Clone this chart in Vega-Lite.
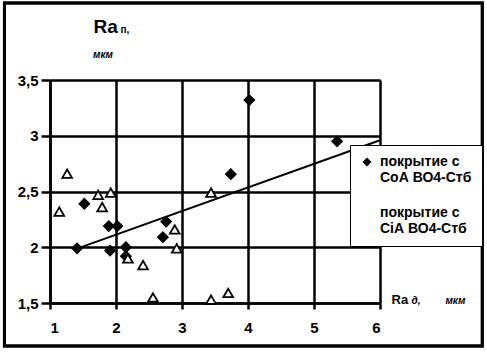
{
  "$schema": "https://vega.github.io/schema/vega-lite/v6.json",
  "width": 330,
  "height": 223,
  "autosize": "none",
  "padding": {"left": 50, "top": 80, "right": 107, "bottom": 49},
  "background": "white",
  "config": {
    "view": {"stroke": null},
    "font": "Liberation Sans",
    "axis": {
      "gridColor": "black", "gridWidth": 2.5, "gridOpacity": 1,
      "domainColor": "black", "domainWidth": 2.5,
      "tickColor": "black", "tickWidth": 2.5,
      "labelColor": "black", "labelFont": "Liberation Sans", "labelFontSize": 15, "labelFontWeight": "bold",
      "titleColor": "black", "titleFont": "Liberation Sans", "titleFontWeight": "bold"
    },
    "title": {"color": "black", "font": "Liberation Sans"}
  },
  "title": {"text": "мкм", "anchor": "start", "frame": "group", "dx": 43, "dy": 76, "fontSize": 10, "fontStyle": "italic", "fontWeight": "bold", "offset": 18},
  "datasets": {
    "points": [
      {"x": 1.52, "y": 2.39, "series": "покрытие с СоА ВО4-Стб"},
      {"x": 1.41, "y": 1.99, "series": "покрытие с СоА ВО4-Стб"},
      {"x": 1.89, "y": 2.19, "series": "покрытие с СоА ВО4-Стб"},
      {"x": 2.02, "y": 2.19, "series": "покрытие с СоА ВО4-Стб"},
      {"x": 1.91, "y": 1.97, "series": "покрытие с СоА ВО4-Стб"},
      {"x": 2.15, "y": 2.0, "series": "покрытие с СоА ВО4-Стб"},
      {"x": 2.15, "y": 1.92, "series": "покрытие с СоА ВО4-Стб"},
      {"x": 2.76, "y": 2.23, "series": "покрытие с СоА ВО4-Стб"},
      {"x": 2.71, "y": 2.09, "series": "покрытие с СоА ВО4-Стб"},
      {"x": 3.74, "y": 2.655, "series": "покрытие с СоА ВО4-Стб"},
      {"x": 4.02, "y": 3.32, "series": "покрытие с СоА ВО4-Стб"},
      {"x": 5.35, "y": 2.95, "series": "покрытие с СоА ВО4-Стб"},
      {"x": 1.26, "y": 2.66, "series": "покрытие с СіА ВО4-Стб"},
      {"x": 1.14, "y": 2.32, "series": "покрытие с СіА ВО4-Стб"},
      {"x": 1.73, "y": 2.47, "series": "покрытие с СіА ВО4-Стб"},
      {"x": 1.92, "y": 2.49, "series": "покрытие с СіА ВО4-Стб"},
      {"x": 1.79, "y": 2.36, "series": "покрытие с СіА ВО4-Стб"},
      {"x": 2.18, "y": 1.9, "series": "покрытие с СіА ВО4-Стб"},
      {"x": 2.41, "y": 1.84, "series": "покрытие с СіА ВО4-Стб"},
      {"x": 2.89, "y": 2.16, "series": "покрытие с СіА ВО4-Стб"},
      {"x": 2.92, "y": 1.99, "series": "покрытие с СіА ВО4-Стб"},
      {"x": 2.56, "y": 1.55, "series": "покрытие с СіА ВО4-Стб"},
      {"x": 3.44, "y": 1.53, "series": "покрытие с СіА ВО4-Стб"},
      {"x": 3.7, "y": 1.59, "series": "покрытие с СіА ВО4-Стб"},
      {"x": 3.44, "y": 2.49, "series": "покрытие с СіА ВО4-Стб"}
    ],
    "trend": [
      {"x": 1.42, "y": 1.99},
      {"x": 6.0, "y": 2.96}
    ]
  },
  "layer": [
    {
      "data": {"name": "trend"},
      "mark": {"type": "rect", "fill": null, "stroke": "black", "strokeWidth": 3, "clip": false},
      "encoding": {
        "x": {"datum": 0.31, "type": "quantitative", "scale": {"domain": [1, 6], "nice": false, "zero": false}, "axis": null},
        "x2": {"datum": 7.55},
        "y": {"datum": 4.19, "type": "quantitative", "scale": {"domain": [1.5, 3.5], "nice": false, "zero": false}, "axis": null},
        "y2": {"datum": 1.115}
      }
    },
    {
      "data": {"name": "trend"},
      "mark": {"type": "line", "color": "black", "strokeWidth": 2},
      "encoding": {
        "x": {"field": "x", "type": "quantitative", "scale": {"domain": [1, 6], "nice": false, "zero": false},
          "axis": {"orient": "top", "grid": false, "domain": false, "ticks": false, "labels": false,
            "title": "д,\u00a0\u00a0\u00a0\u00a0\u00a0\u00a0\u00a0\u00a0\u00a0мкм", "titleX": 361, "titleY": 223, "titleAngle": 0, "titleAlign": "left", "titleBaseline": "alphabetic", "titleFontSize": 10, "titleFontStyle": "italic"}},
        "y": {"field": "y", "type": "quantitative", "scale": {"domain": [1.5, 3.5], "nice": false, "zero": false},
          "axis": {"orient": "right", "grid": false, "domain": false, "ticks": false, "labels": false,
            "title": "п,", "titleX": -260, "titleY": -48, "titleAngle": 0, "titleAlign": "left", "titleBaseline": "alphabetic", "titleFontSize": 10}}
      }
    },
    {
      "data": {"name": "points"},
      "mark": {"type": "point", "filled": true, "stroke": "black", "strokeWidth": 1.8, "size": 95, "opacity": 1},
      "encoding": {
        "x": {"field": "x", "type": "quantitative", "scale": {"domain": [1, 6], "nice": false, "zero": false},
          "axis": {"orient": "bottom", "values": [1, 2, 3, 4, 5, 6], "grid": true, "tickSize": 6, "labelPadding": 11,
            "title": "Ra", "titleX": 341, "titleY": 0, "titleAngle": 0, "titleAlign": "left", "titleBaseline": "alphabetic", "titleFontSize": 13}},
        "y": {"field": "y", "type": "quantitative", "scale": {"domain": [1.5, 3.5], "nice": false, "zero": false},
          "axis": {"orient": "left", "values": [1.5, 2, 2.5, 3, 3.5], "grid": true, "tickSize": 9, "labelPadding": 3,
            "labelExpr": "replace(format(datum.value, '~g'), '.', ',')",
            "title": "Ra", "titleX": 43, "titleY": -48, "titleAngle": 0, "titleAlign": "left", "titleBaseline": "alphabetic", "titleFontSize": 19}},
        "shape": {"field": "series", "type": "nominal",
          "scale": {"domain": ["покрытие с СоА ВО4-Стб", "покрытие с СіА ВО4-Стб"], "range": ["diamond", "triangle-up"]},
          "legend": {"title": null, "orient": "none", "legendX": 300, "legendY": 65, "zindex": 5,
            "strokeColor": "black", "fillColor": "white", "padding": 10,
            "labelFontSize": 14, "labelFontWeight": "bold", "labelColor": "black", "labelLimit": 200, "labelOffset": 6,
            "labelExpr": "[substring(datum.label, 0, 10), substring(datum.label, 11)]",
            "rowPadding": 20, "symbolSize": 80, "symbolStrokeColor": "black", "symbolStrokeWidth": 2,
            "encode": {"legend": {"update": {"strokeWidth": {"value": 2.5}}}, "labels": {"update": {"lineHeight": {"value": 21}}}}}},
        "fill": {"field": "series", "type": "nominal",
          "scale": {"domain": ["покрытие с СоА ВО4-Стб", "покрытие с СіА ВО4-Стб"], "range": ["black", "white"]},
          "legend": {"title": null, "orient": "none", "legendX": 300, "legendY": 65, "zindex": 5,
            "strokeColor": "black", "fillColor": "white", "padding": 10,
            "labelFontSize": 14, "labelFontWeight": "bold", "labelColor": "black", "labelLimit": 200, "labelOffset": 6,
            "labelExpr": "[substring(datum.label, 0, 10), substring(datum.label, 11)]",
            "rowPadding": 20, "symbolSize": 80, "symbolStrokeColor": "black", "symbolStrokeWidth": 2,
            "encode": {"legend": {"update": {"strokeWidth": {"value": 2.5}}}, "labels": {"update": {"lineHeight": {"value": 21}}}}}}
      }
    }
  ],
  "resolve": {"scale": {"x": "independent", "y": "independent"}, "axis": {"x": "independent", "y": "independent"}}
}
